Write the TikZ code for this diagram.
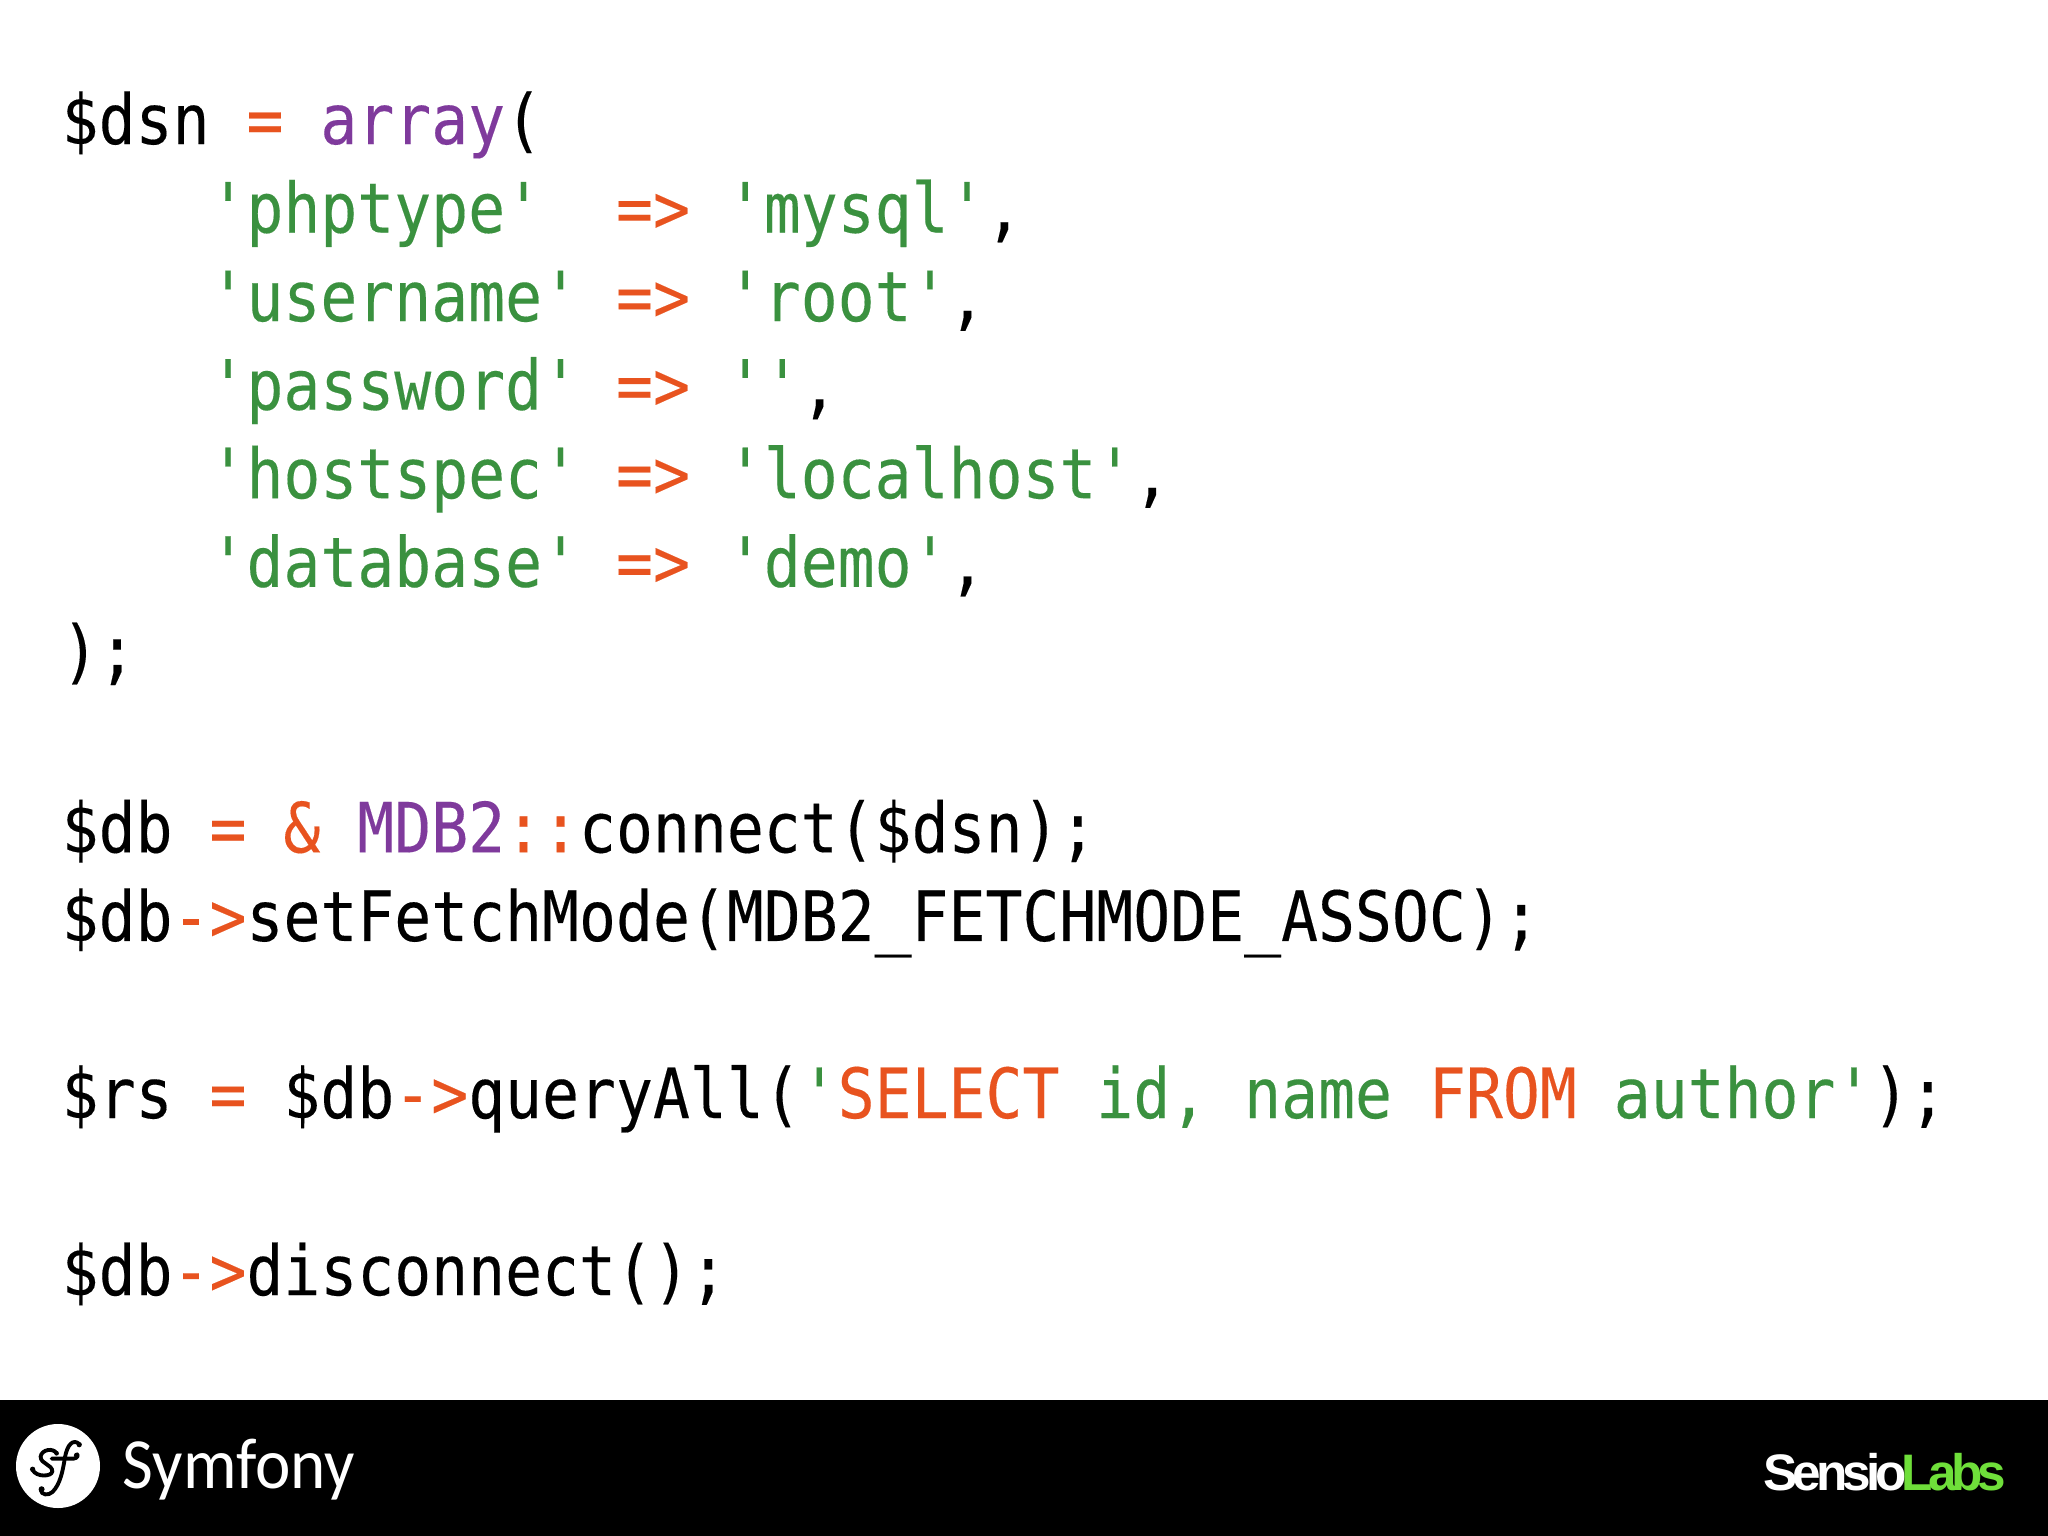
\documentclass[tikz,border=0pt]{standalone}
\usepackage{fontspec}
\newfontfamily\codefont[FakeStretch=0.886,FakeBold=0.2]{DejaVu Sans Mono}
\newfontfamily\symfonyfont[FakeStretch=0.93]{Carlito}
\newfontfamily\sensiofont[LetterSpace=-10]{Liberation Sans}
\definecolor{opcolor}{HTML}{E8531F}
\definecolor{kwcolor}{HTML}{7F3A9C}
\definecolor{strcolor}{HTML}{3A913F}
\definecolor{labscolor}{HTML}{6FDF3A}
\newcommand{\op}[1]{\textcolor{opcolor}{#1}}
\newcommand{\kw}[1]{\textcolor{kwcolor}{#1}}
\newcommand{\str}[1]{\textcolor{strcolor}{#1}}
\begin{document}
\begin{tikzpicture}[x=0.01cm,y=-0.01cm,
    codeline/.style={anchor=base west,inner sep=0pt,font=\codefont\fontsize{19.7}{24}\selectfont}]
    \useasboundingbox (0,0) rectangle (2048,1536);
    \fill[white] (0,0) rectangle (2048,1400);
    \fill[black] (0,1400) rectangle (2048,1536);
    % code, one node per line
    \foreach \n/\code in {
        0/{\$dsn \op{=} \kw{array}(},
        1/{~~~~\str{'phptype'}~~\op{=>} \str{'mysql'},},
        2/{~~~~\str{'username'} \op{=>} \str{'root'},},
        3/{~~~~\str{'password'} \op{=>} \str{''},},
        4/{~~~~\str{'hostspec'} \op{=>} \str{'localhost'},},
        5/{~~~~\str{'database'} \op{=>} \str{'demo'},},
        6/{);},
        8/{\$db \op{=} \op{\&} \kw{MDB2}\op{::}connect(\$dsn);},
        9/{\$db\op{->}setFetchMode(MDB2\_FETCHMODE\_ASSOC);},
        11/{\$rs \op{=} \$db\op{->}queryAll(\str{'}\op{SELECT} \str{id, name} \op{FROM} \str{author'});},
        13/{\$db\op{->}disconnect();}}
        \node[codeline] (line\n) at (61,{144+88.55*\n}) {\code};
    % footer
    \node[circle,fill=white,minimum size=84*0.01cm,inner sep=0pt] (sflogo) at (58,1466) {};
    \begin{scope}[shift={(10,1416)},x=0.00333cm,y=-0.00333cm,line width=1.1pt,line cap=round]
        \draw (208,84) .. controls (190,68) and (172,85) .. (165,125)
            .. controls (158,170) and (150,205) .. (128,228) .. controls (115,240) and (95,238) .. (92,222);
        \draw (125,128) -- (180,128) .. controls (195,130) and (205,125) .. (203,115);
        \draw (140,112) .. controls (130,95) and (95,100) .. (92,122)
            .. controls (92,145) and (128,145) .. (127,167) .. controls (125,182) and (80,185) .. (68,162);
        \fill (208,86) circle (8) (200,118) circle (8) (95,220) circle (9) (140,112) circle (7) (68,160) circle (8);
    \end{scope}
    \node[anchor=base west,inner sep=0pt,text=white,font=\symfonyfont\fontsize{20.5}{24}\selectfont] (symfony) at (122,1488) {Symfony};
    \node[anchor=base east,inner sep=0pt,text=white,font=\sensiofont\bfseries\fontsize{14.6}{18}\selectfont] (sensio) at (2007,1490) {Sensio\kern-1.3pt\textcolor{labscolor}{Labs}};
\end{tikzpicture}
\end{document}
